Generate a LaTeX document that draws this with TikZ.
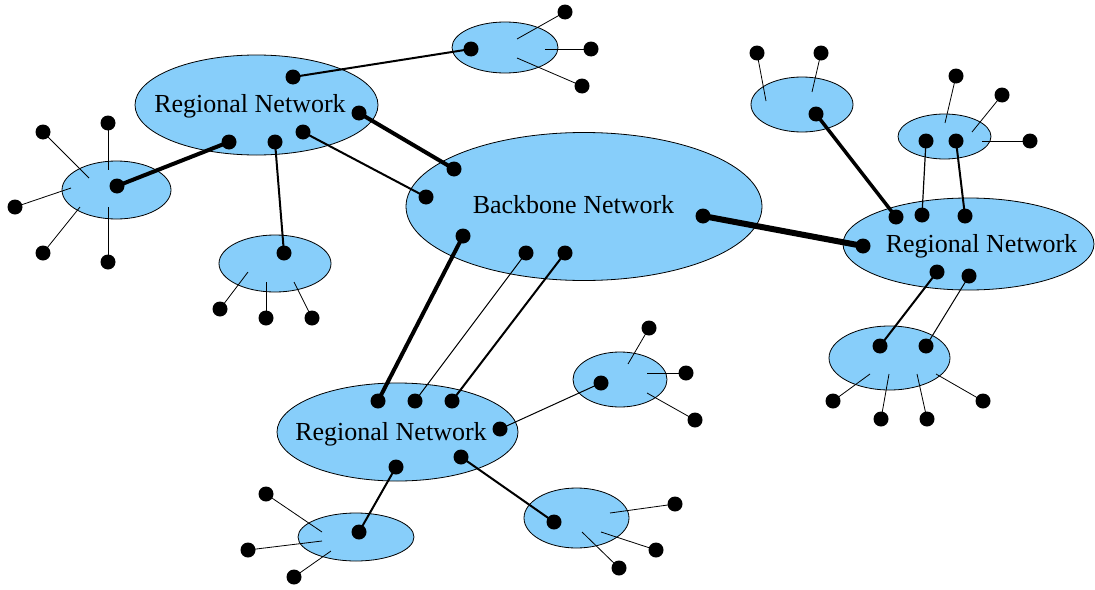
\documentclass[tikz,border=0pt]{standalone}
\usepackage{fontspec}
\setmainfont{Liberation Serif}
\usetikzlibrary{shapes.geometric}
\definecolor{netblue}{RGB}{135,206,250}
\tikzset{
  net/.style={ellipse, draw=black, line width=0.8pt, fill=netblue, inner sep=0pt},
  dot/.style={circle, fill=black, inner sep=0pt, minimum size=15pt},
  lbl/.style={anchor=base, inner sep=0pt, font=\fontsize{26}{30}\selectfont},
  stub/.style={line width=0.8pt},
  thinl/.style={line width=1pt},
  medl/.style={line width=2pt},
  thickl/.style={line width=4pt},
  hugel/.style={line width=6pt},
}
\begin{document}
\begin{tikzpicture}[x=1pt,y=-1pt]
\useasboundingbox (0,0) rectangle (1095,589);
% ---------- networks ----------
\node[net, minimum width=243, minimum height=100] (rn1) at (256.5,105) {};
\node[net, minimum width=109, minimum height=58] (l1) at (116.5,190) {};
\node[net, minimum width=112, minimum height=57] (l2) at (275,263.5) {};
\node[net, minimum width=106, minimum height=51] (t1) at (505,47.5) {};
\node[net, minimum width=356, minimum height=148] (bb) at (584,206.5) {};
\node[net, minimum width=251, minimum height=92] (rn2) at (968.5,244) {};
\node[net, minimum width=102, minimum height=55] (r1) at (802,104.5) {};
\node[net, minimum width=93, minimum height=45] (r2) at (944.5,136.5) {};
\node[net, minimum width=121, minimum height=64] (r3) at (889.5,358) {};
\node[net, minimum width=241, minimum height=98] (rn3) at (397.5,432) {};
\node[net, minimum width=94, minimum height=55] (b1) at (620,379.5) {};
\node[net, minimum width=105, minimum height=60] (b2) at (576.5,518) {};
\node[net, minimum width=116, minimum height=48] (b3) at (356,537) {};
% ---------- labels ----------
\node[lbl] (rn1t) at (250,112) {Regional Network};
\node[lbl] (bbt) at (573.5,213) {Backbone Network};
\node[lbl] (rn2t) at (981.5,252) {Regional Network};
\node[lbl] (rn3t) at (391,440) {Regional Network};
% ---------- dots on networks ----------
\coordinate (a1) at (293,77);
\coordinate (a2) at (359,113);
\coordinate (a3) at (229,142);
\coordinate (a4) at (275,142);
\coordinate (a5) at (303,132);
\coordinate (l1d) at (117,186);
\coordinate (l2d) at (284,253);
\coordinate (t1d) at (471,49);
\coordinate (bb1) at (454,169);
\coordinate (bb2) at (426,197);
\coordinate (bb3) at (463,236);
\coordinate (bb4) at (526,253);
\coordinate (bb5) at (565,253);
\coordinate (bb6) at (703,216);
\coordinate (c1) at (896,217);
\coordinate (c2) at (922,215);
\coordinate (c3) at (965,216);
\coordinate (c4) at (863,246);
\coordinate (c5) at (937,272);
\coordinate (c6) at (969,276);
\coordinate (r1d) at (816,114);
\coordinate (r2d1) at (926,141);
\coordinate (r2d2) at (956,141);
\coordinate (r3d1) at (880,346);
\coordinate (r3d2) at (926,346);
\coordinate (e1) at (378,401);
\coordinate (e2) at (415,401);
\coordinate (e3) at (452,401);
\coordinate (e4) at (500,429);
\coordinate (e5) at (396,467);
\coordinate (e6) at (461,457);
\coordinate (b1d) at (601,383);
\coordinate (b2d) at (554,522);
\coordinate (b3d) at (359,532);
% ---------- stub inner ends ----------
\coordinate (l1s1) at (89,178);
\coordinate (l1s2) at (108,170);
\coordinate (l1s3) at (71,188);
\coordinate (l1s4) at (80,207);
\coordinate (l1s5) at (108,207);
\coordinate (l2s1) at (248,272);
\coordinate (l2s2) at (266,282);
\coordinate (l2s3) at (294,282);
\coordinate (t1s1) at (517,39);
\coordinate (t1s2) at (545,49);
\coordinate (t1s3) at (517,58);
\coordinate (r1s1) at (766,101);
\coordinate (r1s2) at (812,92);
\coordinate (r2s1) at (945,123);
\coordinate (r2s2) at (972,132);
\coordinate (r2s3) at (982,141);
\coordinate (r3s1) at (870,374);
\coordinate (r3s2) at (889,374);
\coordinate (r3s3) at (917,374);
\coordinate (r3s4) at (936,374);
\coordinate (b1s1) at (628,364);
\coordinate (b1s2) at (647,373);
\coordinate (b1s3) at (647,393);
\coordinate (b2s1) at (610,513);
\coordinate (b2s2) at (601,532);
\coordinate (b2s3) at (582,532);
\coordinate (b3s1) at (322,532);
\coordinate (b3s2) at (322,541);
\coordinate (b3s3) at (331,551);
% ---------- outer host dots ----------
\node[dot] (h1) at (43,132) {};
\node[dot] (h2) at (108,123) {};
\node[dot] (h3) at (15,207) {};
\node[dot] (h4) at (43,253) {};
\node[dot] (h5) at (108,262) {};
\node[dot] (h6) at (220,309) {};
\node[dot] (h7) at (266,318) {};
\node[dot] (h8) at (312,318) {};
\node[dot] (h9) at (565,12) {};
\node[dot] (h10) at (591,49) {};
\node[dot] (h11) at (582,86) {};
\node[dot] (h12) at (757,53) {};
\node[dot] (h13) at (821,53) {};
\node[dot] (h14) at (956,76) {};
\node[dot] (h15) at (1002,95) {};
\node[dot] (h16) at (1030,141) {};
\node[dot] (h17) at (833,401) {};
\node[dot] (h18) at (881,419) {};
\node[dot] (h19) at (927,419) {};
\node[dot] (h20) at (983,401) {};
\node[dot] (h21) at (649,328) {};
\node[dot] (h22) at (686,373) {};
\node[dot] (h23) at (695,420) {};
\node[dot] (h24) at (675,504) {};
\node[dot] (h25) at (656,550) {};
\node[dot] (h26) at (619,568) {};
\node[dot] (h27) at (266,494) {};
\node[dot] (h28) at (248,550) {};
\node[dot] (h29) at (294,577) {};
% ---------- stubs ----------
\draw[stub] (h1.center) -- (l1s1);
\draw[stub] (h2.center) -- (l1s2);
\draw[stub] (h3.center) -- (l1s3);
\draw[stub] (h4.center) -- (l1s4);
\draw[stub] (h5.center) -- (l1s5);
\draw[stub] (h6.center) -- (l2s1);
\draw[stub] (h7.center) -- (l2s2);
\draw[stub] (h8.center) -- (l2s3);
\draw[stub] (h9.center) -- (t1s1);
\draw[stub] (h10.center) -- (t1s2);
\draw[stub] (h11.center) -- (t1s3);
\draw[stub] (h12.center) -- (r1s1);
\draw[stub] (h13.center) -- (r1s2);
\draw[stub] (h14.center) -- (r2s1);
\draw[stub] (h15.center) -- (r2s2);
\draw[stub] (h16.center) -- (r2s3);
\draw[stub] (h17.center) -- (r3s1);
\draw[stub] (h18.center) -- (r3s2);
\draw[stub] (h19.center) -- (r3s3);
\draw[stub] (h20.center) -- (r3s4);
\draw[stub] (h21.center) -- (b1s1);
\draw[stub] (h22.center) -- (b1s2);
\draw[stub] (h23.center) -- (b1s3);
\draw[stub] (h24.center) -- (b2s1);
\draw[stub] (h25.center) -- (b2s2);
\draw[stub] (h26.center) -- (b2s3);
\draw[stub] (h27.center) -- (b3s1);
\draw[stub] (h28.center) -- (b3s2);
\draw[stub] (h29.center) -- (b3s3);
% ---------- links ----------
\draw[thickl] (a3) -- (l1d);
\draw[medl] (a4) -- (l2d);
\draw[medl] (a1) -- (t1d);
\draw[thickl] (a2) -- (bb1);
\draw[medl] (a5) -- (bb2);
\draw[hugel] (bb6) -- (c4);
\draw[thickl] (bb3) -- (e1);
\draw[thinl] (bb4) -- (e2);
\draw[medl] (bb5) -- (e3);
\draw[line width=3.5pt] (r1d) -- (c1);
\draw[line width=1.2pt] (r2d1) -- (c2);
\draw[medl] (r2d2) -- (c3);
\draw[medl] (c5) -- (r3d1);
\draw[thinl] (c6) -- (r3d2);
\draw[thinl] (e4) -- (b1d);
\draw[medl] (e6) -- (b2d);
\draw[medl] (e5) -- (b3d);
% ---------- attachment dots ----------
\foreach \p in {a1,a2,a3,a4,a5,l1d,l2d,t1d,bb1,bb2,bb3,bb4,bb5,bb6,c1,c2,c3,c4,c5,c6,r1d,r2d1,r2d2,r3d1,r3d2,e1,e2,e3,e4,e5,e6,b1d,b2d,b3d}
  \node[dot] (\p n) at (\p) {};
\end{tikzpicture}
\end{document}
